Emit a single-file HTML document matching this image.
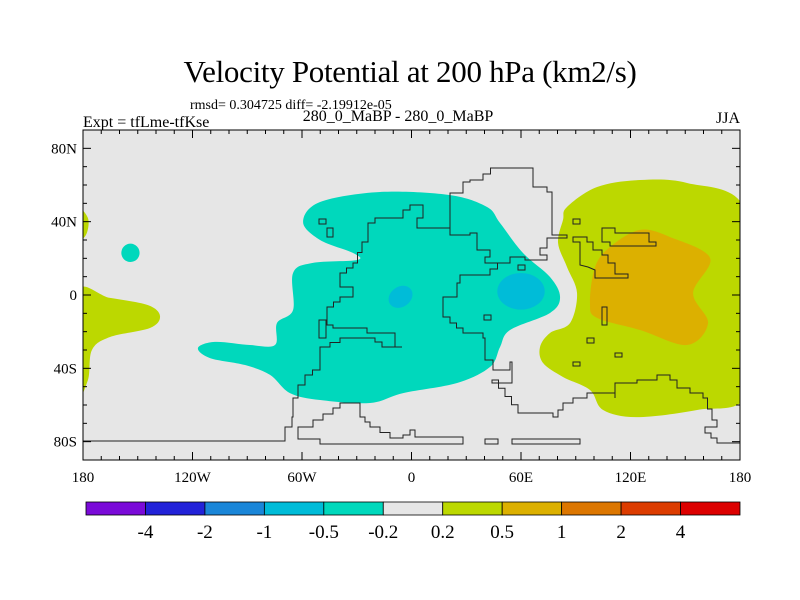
<!DOCTYPE html>
<html><head><meta charset="utf-8"><style>
body{margin:0;background:#fff}
svg{display:block;font-family:"Liberation Serif",serif}
</style></head><body>
<svg id="chart" width="800" height="600">
<text x="410" y="82" font-size="31" text-anchor="middle" letter-spacing="-0.3">Velocity Potential at 200 hPa (km2/s)</text>
<text x="190" y="109" font-size="14">rmsd= 0.304725 diff= -2.19912e-05</text>
<text x="83" y="127" font-size="16">Expt = tfLme-tfKse</text>
<text x="398" y="121" font-size="16" text-anchor="middle">280_0_MaBP - 280_0_MaBP</text>
<text x="740" y="123" font-size="16" text-anchor="end">JJA</text>
<defs><clipPath id="pc"><rect x="83" y="130" width="657" height="330"/></clipPath></defs>
<rect x="83" y="130" width="657" height="330" fill="#e6e6e6"/>
<g id="fills" clip-path="url(#pc)"></g>
<g id="coast" fill="none" stroke="#222" stroke-width="1" clip-path="url(#pc)">
<polyline class="step" points="83,441 278,441 285,427 292,417 293,398 298,385 305,375 320,365 320,347 340,338 375,342 382,347 402,347 395,333 368,333 367,328 333,325 327,315 327,307 340,297 353,295 353,287 340,287 340,273 353,263 362,242 368,223 375,218 403,210 410,205 423,205 423,218 417,228 443,228 450,235 470,233 477,250 490,257 485,263 505,263 510,257 523,257 525,260 547,255 540,248 547,245 547,238 567,235 552,230 552,192 547,187 533,182 533,168 498,168 483,180 470,182 463,193 450,197 450,228"/>
<polyline class="step" points="505,263 490,275 460,283 457,297 450,297 443,317 450,323 463,333 483,338 485,360 493,370 503,370 510,362 512,383 492,380 518,413 553,417 563,403 573,398 587,393 615,398 615,383 637,380 657,375 670,380 677,388 690,393 703,398 712,420 717,427 705,433 717,443 740,443"/>
<polygon class="step" points="298,427 313,420 333,408 340,403 353,403 360,417 370,427 390,438 403,435 410,430 415,437 463,439 463,444 320,444 320,439 298,433"/>
<rect x="485" y="439" width="13" height="5"/><rect x="512" y="439" width="68" height="5"/>
<rect x="319" y="219" width="7" height="5"/><rect x="327" y="228" width="6" height="9"/><rect x="319" y="320" width="7" height="18"/><rect x="484" y="315" width="7" height="5"/><rect x="518" y="265" width="7" height="5"/>
<rect x="573" y="219" width="7" height="5"/><rect x="587" y="338" width="7" height="5"/><rect x="615" y="353" width="7" height="4"/><rect x="573" y="362" width="7" height="4"/><rect x="602" y="307" width="5" height="18"/>
<polygon points="573,237 587,237 587,242 593,242 593,250 602,250 602,255 608,255 608,263 615,263 615,274 628,274 628,278 595,278 595,270 588,267 580,265 580,242 573,242"/>
<polygon points="602,228 615,228 615,233 649,233 649,242 656,242 656,246 610,246 610,242 602,242"/>
</g>
<rect x="83" y="130" width="657" height="330" fill="none" stroke="#000" stroke-width="1"/>
<g id="axes" stroke="#000" stroke-width="1"></g>
<g id="cbar"></g>
</svg>
<script>
// colorbar data
const levels = ["-4","-2","-1","-0.5","-0.2","0.2","0.5","1","2","4"];
const colors = ["#7a0ad8","#2222d8","#1a86d8","#00bcd8","#00d8bc","#e6e6e6","#bcd800","#dcb000","#dc7600","#dc3c00","#dc0000"];
const lonTicks = [-180,-120,-60,0,60,120,180];
const lonLabels = ["180","120W","60W","0","60E","120E","180"];
const latTicks = [80,40,0,-40,-80];
const latLabels = ["80N","40N","0","40S","80S"];
// contour regions [lon,lat]
const tealRegion = [[-59.4,39.8],[-50.1,50.7],[-17.2,56.2],[21.1,54.5],[41.4,48],[48.5,39.3],[61.1,22.9],[75.9,9.8],[81.4,-1.1],[75.9,-9.8],[54,-19.1],[48.5,-28.4],[43,-39.3],[25,-48],[-4.6,-53.5],[-22.7,-58.9],[-50.1,-57.3],[-66.6,-53.5],[-77.5,-43.6],[-91.2,-38.2],[-110.4,-34.4],[-117,-28.9],[-107.7,-25.6],[-88.5,-27.3],[-74.8,-27.3],[-73.7,-15.3],[-64.9,-8.2],[-64.9,12],[-54,17.5],[-29.8,19.1],[-32,22.9],[-50.1,30]];
const yellowEast = [[85.2,48],[101.7,58.9],[125.2,62.7],[151,61.1],[182,48],[184,-10],[182.8,-55.6],[156.5,-62.7],[123.6,-66.6],[105,-62.7],[97.8,-51.8],[83,-44.7],[72.1,-37.1],[70.4,-28.4],[75.9,-20.7],[86.9,-15.3],[90.7,1.1],[85.2,15.3],[80.3,28.4],[83,40.9]];
const yellowWest = [[-184,1.1],[-165.2,-1.6],[-144.4,-5.5],[-137.8,-11.5],[-143.3,-18],[-165.2,-22.9],[-175.1,-30],[-177.3,-46.4],[-184,-55.1]];
const yellowWestSmall = [[-184,48],[-177.3,42],[-178.4,32.7],[-184,30]];
const orangeRegion = [[108.8,26.2],[125.2,35.5],[141.7,31.6],[163.6,20.2],[154.3,1.1],[162.5,-15.3],[151,-27.3],[125.2,-19.1],[101.7,-12.5],[97.8,-4.4],[100.6,15.3]];
const blueSpots = [[-6,-1,7,5.5,-35],[60,2,13,10,0],[-154,23,5,5,0]];

const X = lon => 83 + (lon + 180) / 360 * 657;
const Y = lat => 295 - lat * 1.8333;
const NS = "http://www.w3.org/2000/svg";
function mk(tag, attrs, parent){const e=document.createElementNS(NS,tag);for(const k in attrs)e.setAttribute(k,attrs[k]);parent.appendChild(e);return e;}
function smooth(pts){
  const p = pts.map(q=>[X(q[0]),Y(q[1])]); const n=p.length;
  let d = `M${p[0][0]},${p[0][1]}`;
  for(let i=0;i<n;i++){
    const p0=p[(i-1+n)%n],p1=p[i],p2=p[(i+1)%n],p3=p[(i+2)%n];
    const c1=[p1[0]+(p2[0]-p0[0])/6,p1[1]+(p2[1]-p0[1])/6];
    const c2=[p2[0]-(p3[0]-p1[0])/6,p2[1]-(p3[1]-p1[1])/6];
    d+=` C${c1[0]},${c1[1]} ${c2[0]},${c2[1]} ${p2[0]},${p2[1]}`;
  }
  return d+"Z";
}
// make coastlines stair-stepped
document.querySelectorAll('.step').forEach(pl=>{
  const pts=pl.getAttribute('points').trim().split(/\s+/).map(s=>s.split(',').map(Number));
  const out=[pts[0]];
  for(let i=1;i<pts.length;i++){
    const a=pts[i-1],b=pts[i];
    const dx=b[0]-a[0],dy=b[1]-a[1];
    if(dx!==0&&dy!==0){
      const n=Math.max(1,Math.round(Math.min(Math.abs(dx),Math.abs(dy))/6));
      for(let k=1;k<=n;k++){
        const px=a[0]+dx*(k-1)/n, x2=a[0]+dx*k/n, y2=a[1]+dy*k/n;
        out.push([x2,a[1]+dy*(k-1)/n]); out.push([x2,y2]);
      }
    } else out.push(b);
  }
  pl.setAttribute('points',out.map(p=>p.join(',')).join(' '));
});
const fills=document.getElementById('fills');
let el;
el=mk('path',{d:smooth(tealRegion),fill:colors[4]},fills);


[yellowEast,yellowWest,yellowWestSmall].forEach(r=>{
  const e=mk('path',{d:smooth(r),fill:colors[6]},fills);
  
  
});
el=mk('path',{d:smooth(orangeRegion),fill:colors[7]},fills);


blueSpots.forEach((s,i)=>{
  const cx=X(s[0]),cy=Y(s[1]);
  const e=mk('ellipse',{cx:cx,cy:cy,rx:s[2]*657/360,ry:s[3]*1.8333,fill:i==2?colors[4]:colors[3],transform:`rotate(${s[4]} ${cx} ${cy})`},fills);
  
  
});
const axes=document.getElementById('axes'), svg=document.getElementById('chart');
for(let lon=-180;lon<=180;lon+=10){
  const len = lon%60===0?8:4;
  mk('line',{x1:X(lon),x2:X(lon),y1:130,y2:130+len},axes);
  mk('line',{x1:X(lon),x2:X(lon),y1:460,y2:460-len},axes);
}
for(let lat=-90;lat<=90;lat+=10){
  const len = lat%40===0?8:4;
  mk('line',{x1:83,x2:83+len,y1:Y(lat),y2:Y(lat)},axes);
  mk('line',{x1:740,x2:740-len,y1:Y(lat),y2:Y(lat)},axes);
}
lonTicks.forEach((t,i)=>{
  const e=mk('text',{x:X(t),y:482,'font-size':15,'text-anchor':'middle'},svg);
  e.textContent=lonLabels[i];
  
  
});
latTicks.forEach((t,i)=>{
  const e=mk('text',{x:77,y:Y(t)+5,'font-size':15,'text-anchor':'end'},svg);
  e.textContent=latLabels[i];
  
  
});
const cbar=document.getElementById('cbar');
const bx=86,bw=(740-86)/colors.length;
colors.forEach((c,i)=>{
  const e=mk('rect',{x:bx+i*bw,y:502,width:bw,height:13,fill:c,stroke:'#000','stroke-width':0.8},cbar);
  
  
});
levels.forEach((l,i)=>{
  const e=mk('text',{x:bx+(i+1)*bw,y:538,'font-size':19,'text-anchor':'middle'},cbar);
  e.textContent=l;
  
  
});
</script>
</body></html>
